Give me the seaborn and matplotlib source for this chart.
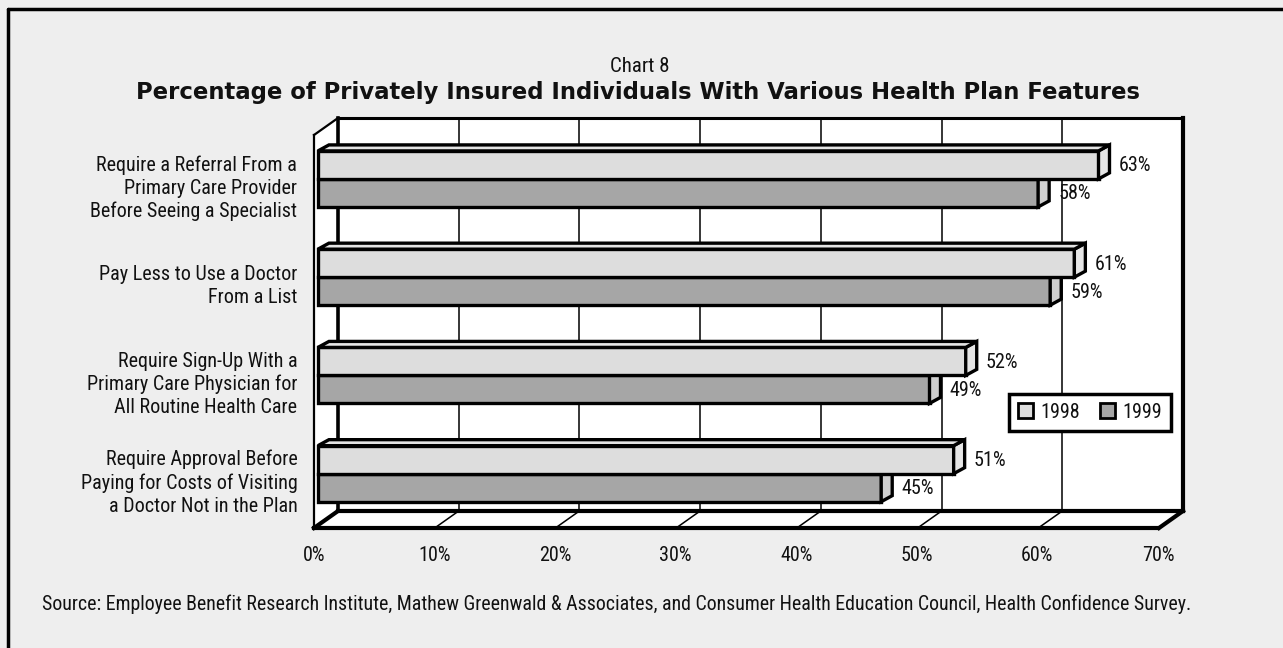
import numpy as np
import pandas as pd
import matplotlib
matplotlib.use("Agg")
import matplotlib.pyplot as plt
import seaborn as sns
from matplotlib.patches import Polygon, Patch
from matplotlib.lines import Line2D
from matplotlib.transforms import IdentityTransform
from matplotlib import font_manager

# ---- data -------------------------------------------------------------
features = [
    "Require a Referral From a\nPrimary Care Provider\nBefore Seeing a Specialist",
    "Pay Less to Use a Doctor\nFrom a List",
    "Require Sign-Up With a\nPrimary Care Physician for\nAll Routine Health Care",
    "Require Approval Before\nPaying for Costs of Visiting\na Doctor Not in the Plan",
]
years = ["1998", "1999"]
pct_1998 = [63, 61, 52, 51]
pct_1999 = [58, 59, 49, 45]
x_ticks = [0, 10, 20, 30, 40, 50, 60, 70]
x_tick_labels = [f"{t}%" for t in x_ticks]

chart_label = "Chart 8"
title = "Percentage of Privately Insured Individuals With Various Health Plan Features"
source = ("Source: Employee Benefit Research Institute, Mathew Greenwald & Associates, "
          "and Consumer Health Education Council, Health Confidence Survey.")

df = pd.DataFrame({
    "feature": features * 2,
    "pct": pct_1998 + pct_1999,
    "year": [years[0]] * len(features) + [years[1]] * len(features),
})

# ---- style ------------------------------------------------------------
sns.set_theme(style="white")
# use a narrow face when one is installed
names = {f.name for f in font_manager.fontManager.ttflist}
narrow_family = None
for cand in ("Liberation Sans Narrow", "Arial Narrow", "Roboto Condensed",
             "Open Sans Condensed"):
    if cand in names:
        narrow_family = cand
        break
if narrow_family:
    plt.rcParams["font.family"] = [narrow_family, "DejaVu Sans"]
else:
    plt.rcParams["font.family"] = ["DejaVu Sans"]
    plt.rcParams["font.stretch"] = "condensed"
plt.rcParams["text.color"] = "#111111"
BASE = 14.5

BG = "#EEEEEE"
FRONT = {"1998": "#DDDDDD", "1999": "#A6A6A6"}
SIDE = {"1998": "#E6E6E6", "1999": "#CFCFCF"}
TOP = "#E4E4E4"

W, H = 1283, 648
fig = plt.figure(figsize=(W / 100, H / 100), dpi=100, facecolor=BG)


def frac(left, top, right, bottom):
    return [left / W, 1 - bottom / H, (right - left) / W, (bottom - top) / H]


# back wall (value plane) and front plane (axis labels), oblique offset
DEPTH_X, DEPTH_Y = -24, 17          # back -> front, pixels (y down)
ax = fig.add_axes(frac(338, 118, 1183, 511))
axf = fig.add_axes(frac(314, 135, 1158, 528))
ax.set_zorder(1)
axf.set_zorder(2)
axf.patch.set_visible(False)
ax.set_facecolor("white")

# ---- bars -------------------------------------------------------------
sns.barplot(data=df, x="pct", y="feature", hue="year", orient="h",
            palette=FRONT, width=0.57, edgecolor="black", linewidth=2.4,
            legend=False, ax=ax, zorder=3)

n = len(features)
for ax_ in (ax, axf):
    ax_.set_xlim(0, 70)
    ax_.set_ylim(n - 0.5, -0.5)

BAR_SHIFT = 0.12      # bars sit slightly in front of the wall
BAR_LEFT = -1.66      # front face starts on the front of the side wall
BAR_DX, BAR_DY = 11, 6


def disp(x, y, dx=0, dy=0):
    p = ax.transData.transform((x, y))
    return (p[0] + dx, p[1] - dy)


def poly(pts, **kw):
    ax.add_patch(Polygon(pts, closed=True, transform=IdentityTransform(),
                         clip_on=False, **kw))


def seg(p0, p1, **kw):
    ax.add_line(Line2D([p0[0], p1[0]], [p0[1], p1[1]], color="black",
                       transform=IdentityTransform(), clip_on=False,
                       solid_capstyle="projecting", **kw))


for year, cont in zip(years, ax.containers):
    z = 4 if year == "1998" else 3
    for rect in cont:
        value = rect.get_x() + rect.get_width()
        rect.set_y(rect.get_y() + BAR_SHIFT)
        rect.set_x(BAR_LEFT)
        rect.set_width(value - BAR_LEFT)
        rect.set_clip_on(False)
        rect.set_zorder(z)
        rect.set_joinstyle("miter")
        yt, yb = rect.get_y(), rect.get_y() + rect.get_height()
        side = [disp(value, yt), disp(value, yt, BAR_DX, -BAR_DY),
                disp(value, yb, BAR_DX, -BAR_DY), disp(value, yb)]
        poly(side, facecolor=SIDE[year], edgecolor="black", lw=2.4,
             joinstyle="miter", zorder=z)
        if year == "1998":
            top = [disp(BAR_LEFT, yt), disp(value, yt),
                   disp(value, yt, BAR_DX, -BAR_DY),
                   disp(BAR_LEFT, yt, BAR_DX, -BAR_DY)]
            poly(top, facecolor=TOP, edgecolor="black", lw=2.4,
                 joinstyle="miter", zorder=z)
        ax.annotate(f"{value:.0f}%", xy=(value, (yt + yb) / 2),
                    xytext=(20, -1), textcoords="offset pixels",
                    ha="left", va="center", fontsize=BASE,
                    annotation_clip=False, zorder=6)

# ---- walls, floor, grid -----------------------------------------------
y_top, y_bot = -0.5, n - 0.5
poly([disp(0, y_bot), disp(70, y_bot), disp(70, y_bot, DEPTH_X, DEPTH_Y),
      disp(0, y_bot, DEPTH_X, DEPTH_Y)], facecolor="white", edgecolor="none",
     zorder=0.5)
poly([disp(0, y_top), disp(0, y_bot), disp(0, y_bot, DEPTH_X, DEPTH_Y),
      disp(0, y_top, DEPTH_X, DEPTH_Y)], facecolor="white", edgecolor="none",
     zorder=0.5)

ax.vlines(x_ticks[1:-1], y_top, y_bot, color="black", lw=1.1, zorder=1)
for t in x_ticks[1:-1]:
    seg(disp(t, y_bot), disp(t, y_bot, DEPTH_X, DEPTH_Y), lw=1.1, zorder=1)

seg(disp(0, y_top), disp(70, y_top), lw=2.2, zorder=2)
seg(disp(70, y_top), disp(70, y_bot), lw=3, zorder=2)
seg(disp(0, y_bot), disp(70, y_bot), lw=3, zorder=2)
seg(disp(0, y_top), disp(0, y_bot), lw=2.6, zorder=2)
seg(disp(0, y_top), disp(0, y_top, DEPTH_X, DEPTH_Y), lw=1.6, zorder=2)
seg(disp(0, y_bot), disp(0, y_bot, DEPTH_X, DEPTH_Y), lw=3, zorder=2)
seg(disp(70, y_bot), disp(70, y_bot, DEPTH_X, DEPTH_Y), lw=3, zorder=2)

for s in ax.spines.values():
    s.set_visible(False)
ax.set_xticks([])
ax.set_yticks([])
ax.set_xlabel("")
ax.set_ylabel("")

# ---- front axis -------------------------------------------------------
for name, s in axf.spines.items():
    s.set_visible(name in ("left", "bottom"))
    s.set_color("black")
axf.spines["bottom"].set_linewidth(3)
axf.spines["left"].set_linewidth(1.6)
axf.set_xticks(x_ticks, labels=x_tick_labels)
axf.set_yticks(np.arange(-0.5, n, 1.0), labels=[""] * (n + 1))
axf.set_yticks(range(n), labels=features, minor=True)
axf.tick_params(axis="x", which="major", direction="out", length=7,
                width=1.4, labelsize=BASE, pad=6, colors="black",
                labelcolor="#111111")
axf.tick_params(axis="y", which="major", direction="out", length=7,
                width=1.4, colors="black")
axf.tick_params(axis="y", which="minor", length=0, pad=12, labelsize=BASE,
                labelcolor="#111111")
for lab in axf.get_yticklabels(minor=True):
    lab.set_linespacing(1.25)

# ---- legend -----------------------------------------------------------
handles = [Patch(facecolor=FRONT[y], edgecolor="black", lw=2, label=y)
           for y in years]
leg = ax.legend(handles=handles, loc="center", bbox_to_anchor=(0.890, 0.251),
                ncol=2, fontsize=BASE, frameon=True, fancybox=False,
                edgecolor="black", framealpha=1, handlelength=0.75,
                handleheight=0.75, handletextpad=0.35, columnspacing=1.0,
                borderpad=0.45)
leg.get_frame().set_linewidth(2.5)
leg.set_zorder(7)

# ---- titles, source, frame -------------------------------------------
fig.text(640 / W, 1 - 67 / H, chart_label, ha="center", va="center",
         fontsize=15)
fig.text(638 / W, 1 - 92 / H, title, ha="center", va="center", fontsize=16.4,
         fontweight="bold", family=["DejaVu Sans"], fontstretch="normal")
fig.text(42 / W, 1 - 604 / H, source, ha="left", va="center", fontsize=14.3)

fig.add_artist(Line2D([8 / W, 8 / W], [0, 1 - 9 / H], color="black", lw=2.5,
                      transform=fig.transFigure))
fig.add_artist(Line2D([8 / W, 1], [1 - 9 / H, 1 - 9 / H], color="black",
                      lw=2.5, transform=fig.transFigure))

fig.savefig("out.png", dpi=100, facecolor=BG)
